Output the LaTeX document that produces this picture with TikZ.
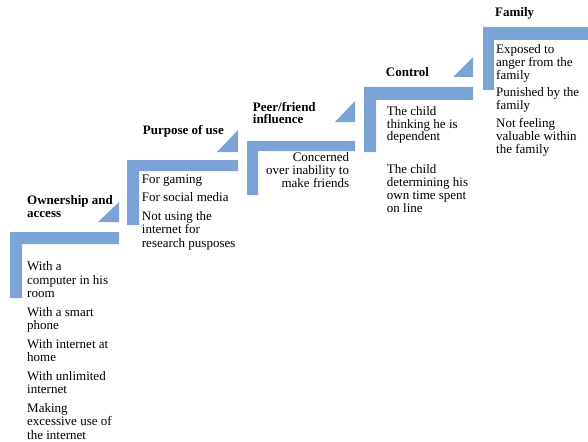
\documentclass[tikz,border=0pt]{standalone}
\usepackage{fontspec}
\setmainfont{Liberation Serif}
\definecolor{stepblue}{RGB}{124,163,213}

\begin{document}
\begin{tikzpicture}[
  x=1pt, y=-1pt,
  font=\fontsize{13}{12.8}\selectfont,
  bar/.style={fill=stepblue},
  head/.style={anchor=north west, inner sep=0pt, align=left, font=\fontsize{13}{12.8}\selectfont\bfseries},
  items/.style={anchor=north west, inner sep=0pt, align=left}
]
\useasboundingbox (0,0) rectangle (588,441);
% steps
\fill[bar] (10,232) -- (119,232) -- (119,244) -- (22,244) -- (22,298) -- (10,298) -- cycle;
\fill[bar] (98,222) -- (119,202) -- (119,222) -- cycle;
\fill[bar] (127,160) -- (238,160) -- (238,171) -- (139,171) -- (139,225) -- (127,225) -- cycle;
\fill[bar] (217,152) -- (238,130) -- (238,152) -- cycle;
\fill[bar] (247,141) -- (355,141) -- (355,151) -- (258,151) -- (258,195) -- (247,195) -- cycle;
\fill[bar] (335,122) -- (355,101) -- (355,122) -- cycle;
\fill[bar] (364,87) -- (473,87) -- (473,100) -- (376,100) -- (376,152) -- (364,152) -- cycle;
\fill[bar] (453,77) -- (473,57) -- (473,77) -- cycle;
\fill[bar] (483,27) -- (588,27) -- (588,40) -- (494,40) -- (494,90) -- (483,90) -- cycle;
% texts
\node[head] (own) at (27,195.5) {Ownership and\\access};
\node[items, font=\fontsize{13}{13.5}\selectfont] (ownlist) at (27,261.7) {With a\\computer in his\\room\\[5pt]With a smart\\phone\\[5pt]With internet at\\home\\[5pt]With unlimited\\internet\\[5pt]Making\\excessive use of\\the internet};
\node[head] (purp) at (142.7,125) {Purpose of use};
\node[items, font=\fontsize{13}{13.5}\selectfont] (purplist) at (141.7,174.3) {For gaming\\[5pt]For social media\\[5pt]Not using the\\internet for\\research pusposes};
\node[head] (peer) at (252.7,101.7) {Peer/friend\\influence};
\node[items, anchor=north east, align=right, font=\fontsize{13}{13}\selectfont] (peerlist) at (349.3,152.7) {Concerned\\over inability to\\make friends};
\node[head] (ctrl) at (385.7,67.7) {Control};
\node[items] (ctrllist) at (386.7,106) {The child\\thinking he is\\dependent\\[20pt]The child\\determining his\\own time spent\\on line};
\node[head] (fam) at (495,7.7) {Family};
\node[items] (famlist) at (496,44.3) {Exposed to\\anger from the\\family\\[5pt]Punished by the\\family\\[5pt]Not feeling\\valuable within\\the family};
\end{tikzpicture}
\end{document}
